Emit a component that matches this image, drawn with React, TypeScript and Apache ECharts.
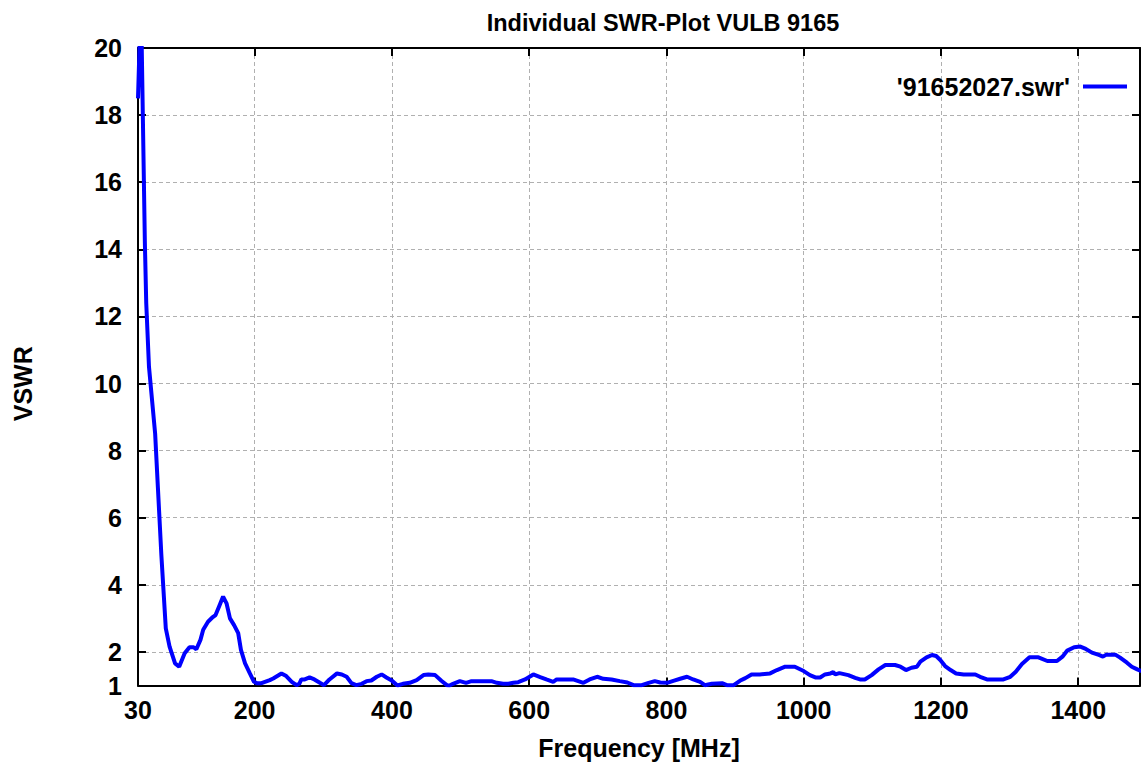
import React, { useEffect, useRef } from "react";
import * as echarts from "echarts";

const freqMHz: number[] = [
  30, 33, 35, 40, 42, 46, 55, 59, 64, 70.5, 76, 84, 90, 98, 105, 111, 115, 121, 125, 132,
  139, 143, 148, 154, 159, 164, 170, 176, 180, 186, 193, 199, 203, 210, 222, 227, 239, 246,
  254, 261, 265, 268, 273, 280, 287, 295, 301, 309, 320, 327, 334, 341, 348, 356, 363, 370,
  378, 385, 392, 399, 408, 416, 426, 436, 446, 453, 463, 472, 480, 484, 489, 499, 508, 516,
  533, 545, 553, 562, 569, 577, 584, 594, 606, 616, 625, 635, 640, 664, 679, 688, 699, 708,
  720, 732, 743, 752, 764, 774, 783, 791, 801, 810, 820, 830, 839, 849, 856, 866, 881, 888,
  898, 907, 915, 924, 936, 951, 961, 973, 987, 1000, 1009, 1017, 1024, 1031, 1039, 1043, 1046,
  1052, 1065, 1075, 1082, 1089, 1099, 1109, 1119, 1133, 1141, 1149, 1157, 1165, 1170, 1179,
  1187, 1193, 1199, 1206, 1214, 1222, 1233, 1250, 1257, 1267, 1291, 1301, 1309, 1318, 1329,
  1342, 1355, 1369, 1377, 1384, 1394, 1403, 1411, 1420, 1430, 1436, 1441, 1454, 1461, 1471,
  1478, 1486, 1492,
];

const vswr: number[] = [
  18.5, 20.6, 20.6, 14.2, 12.4, 10.5, 8.5, 6.9, 4.9, 2.7, 2.16, 1.66, 1.56, 1.96, 2.14, 2.14,
  2.08, 2.36, 2.66, 2.9, 3.04, 3.1, 3.35, 3.65, 3.45, 3.0, 2.8, 2.56, 2.06, 1.66, 1.36, 1.11,
  1.07, 1.07, 1.16, 1.21, 1.36, 1.28, 1.11, 1.01, 1.05, 1.18, 1.18, 1.24, 1.18, 1.08, 1.01,
  1.18, 1.36, 1.33, 1.26, 1.07, 1.01, 1.05, 1.13, 1.15, 1.26, 1.33, 1.24, 1.16, 1.0, 1.05,
  1.08, 1.16, 1.31, 1.33, 1.31, 1.14, 1.01, 1.0, 1.05, 1.13, 1.08, 1.13, 1.13, 1.13, 1.08,
  1.05, 1.05, 1.08, 1.1, 1.18, 1.33, 1.25, 1.18, 1.11, 1.18, 1.18, 1.08, 1.18, 1.26, 1.2,
  1.18, 1.13, 1.09, 1.01, 1.01, 1.08, 1.13, 1.09, 1.08, 1.14, 1.2, 1.26, 1.18, 1.11, 1.01,
  1.05, 1.07, 1.01, 1.01, 1.14, 1.22, 1.33, 1.33, 1.36, 1.46, 1.56, 1.56, 1.43, 1.31, 1.24,
  1.24, 1.33, 1.36, 1.4, 1.33, 1.37, 1.31, 1.23, 1.18, 1.18, 1.31, 1.48, 1.61, 1.61, 1.56,
  1.46, 1.53, 1.56, 1.71, 1.84, 1.91, 1.88, 1.76, 1.58, 1.46, 1.36, 1.33, 1.33, 1.26, 1.18,
  1.18, 1.26, 1.41, 1.64, 1.84, 1.84, 1.73, 1.73, 1.86, 2.04, 2.14, 2.16, 2.09, 1.98, 1.91,
  1.86, 1.92, 1.92, 1.83, 1.68, 1.56, 1.48, 1.43,
];

const xTicks: number[] = [30, 200, 400, 600, 800, 1000, 1200, 1400];
const yTicks: number[] = [1, 2, 4, 6, 8, 10, 12, 14, 16, 18, 20];

const seriesName = "'91652027.swr'";
const FONT = "'Liberation Sans', Arial, Helvetica, sans-serif";

export default function App() {
  const ref = useRef<HTMLDivElement>(null);

  useEffect(() => {
    document.body.style.margin = "0";
    if (!ref.current) return;
    const chart = echarts.init(ref.current, undefined, { renderer: "svg" });

    const labelStyle = {
      fontFamily: FONT,
      fontWeight: "bold" as const,
      fontSize: 25,
      color: "#000",
    };
    const gridLine = {
      show: true,
      lineStyle: { color: "#b0b0b0", width: 1, type: [4, 3] },
    };
    const axisLineStyle = { show: true, onZero: false, lineStyle: { color: "#000", width: 2 } };
    const tickStyle = { color: "#000", width: 2 };
    const plain = (v: number) => String(v);

    chart.setOption({
      animation: false,
      backgroundColor: "#fff",
      title: {
        text: "Individual SWR-Plot VULB 9165",
        left: 658,
        textAlign: "center",
        top: 6,
        textStyle: { ...labelStyle, fontSize: 23.5 },
      },
      legend: {
        data: [seriesName],
        right: 9,
        top: 69,
        align: "right",
        icon: "rect",
        itemWidth: 44,
        itemHeight: 4,
        textStyle: { ...labelStyle, padding: [0, 8, 0, 0] },
      },
      grid: { left: 138, right: 1, top: 48, bottom: 83.5, containLabel: false },
      xAxis: [
        {
          type: "value",
          position: "bottom",
          min: 30,
          max: 1490,
          name: "Frequency [MHz]",
          nameLocation: "middle",
          nameGap: 50,
          nameTextStyle: labelStyle,
          axisLine: axisLineStyle,
          axisTick: { show: true, inside: true, length: 8, lineStyle: tickStyle, customValues: xTicks },
          axisLabel: { ...labelStyle, margin: 12, customValues: xTicks, formatter: plain },
          splitLine: gridLine,
        },
        {
          type: "value",
          position: "top",
          min: 30,
          max: 1490,
          axisLine: axisLineStyle,
          axisTick: { show: true, inside: true, length: 8, lineStyle: tickStyle, customValues: xTicks },
          axisLabel: { show: false },
          splitLine: { show: false },
        },
      ],
      yAxis: [
        {
          type: "value",
          position: "left",
          min: 1,
          max: 20,
          name: "VSWR",
          nameLocation: "middle",
          nameRotate: 90,
          nameGap: 103,
          nameTextStyle: { ...labelStyle, padding: [0, 34, 0, 0] },
          axisLine: axisLineStyle,
          axisTick: { show: true, inside: true, length: 8, lineStyle: tickStyle, customValues: yTicks },
          axisLabel: { ...labelStyle, margin: 16, customValues: yTicks, formatter: plain },
          splitLine: gridLine,
        },
        {
          type: "value",
          position: "right",
          min: 1,
          max: 20,
          axisLine: axisLineStyle,
          axisTick: { show: true, inside: true, length: 8, lineStyle: tickStyle, customValues: yTicks },
          axisLabel: { show: false },
          splitLine: { show: false },
        },
      ],
      series: [
        {
          name: seriesName,
          type: "line",
          xAxisIndex: 0,
          yAxisIndex: 0,
          data: freqMHz.map((f, i) => [f, vswr[i]]),
          showSymbol: false,
          symbol: "none",
          clip: true,
          lineStyle: { color: "#0000ff", width: 4 },
          itemStyle: { color: "#0000ff" },
        },
      ],
    });

    return () => chart.dispose();
  }, []);

  return <div ref={ref} style={{ width: 1141, height: 769 }} />;
}
